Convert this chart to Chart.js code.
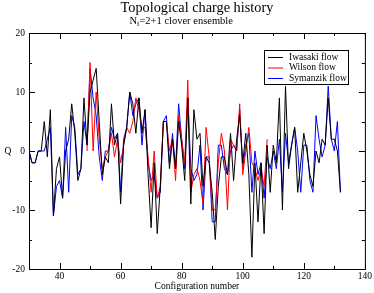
<!DOCTYPE html>
<html>
<head>
<meta charset="utf-8">
<script src="https://cdn.jsdelivr.net/npm/chart.js@4"></script>
<style>
  html, body { margin: 0; padding: 0; background: #fff; }
  #wrap { width: 374px; height: 293px; }
</style>
</head>
<body>
<div id="wrap"><canvas id="chart" width="374" height="293"></canvas></div>
<script>
// テキスト
const titleText = 'Topological charge history';
const subtitleMain = 'N';
const subtitleSub = 'f';
const subtitleRest = '=2+1 clover ensemble';
const xTitle = 'Configuration number';
const yTitle = 'Q';

// 構成番号の開始値（1刻み）
const iwasakiStart = 30;
const wilsonStart = 49;
const symanzikStart = 30;

// Iwasaki flow (30〜132)
const iwasaki = [
  0, -2, -2, 0, 0, 5, -1, 7, -11, -3,
  -1, -8, 0, 2, 8, 3, -5, -3, 9, 1,
  10, 12, 14, 5, -4, -1, -2, 8, 1, 3,
  -9, 1, 4, 10, 8, 3, 9, 3, 7, -4,
  -13, -2, -14, -6, 5, 5, -3, 2, -3, 5,
  1, -5, 9, -9, 7, 2, 3, -6, -1, -2,
  -7, -15, -6, -1, -1, -4, 3, -5, 2, 6,
  -2, 3, -4, -18, -2, -12, -2, -14, 1, -7,
  1, -2, 9, -10, 11, -3, 1, 4, -7, -2,
  3, 0, -4, -6, 0, -2, 2, 1, 9, 2,
  2, 0, -7
];

// Wilson flow (49〜108)
const wilson = [
  0, 15, 0, 10, 2, -3, -1, 0, 3, -1,
  2, -2, 1, 4, 3, 5, 9, 7, 4, 4,
  -1, -7, 0, -8, -6, 5, 5, 0, 2, -5,
  6, 2, -2, 12, -7, -4, -3, -5, -9, 4,
  -1, -10, -10, -2, 3, 0, -10, 2, 1, 0,
  8, -4, 0, 4, -2, -3, -5, -3, -6, 2
];

// Symanzik flow (30〜132)
const symanzik = [
  0, -2, -2, 0, 0, 0, 2, 4, -11, -6,
  -5, -8, 4, -7, 6, 4, -4, -3, 5, 1,
  14, 9, 6, -1, -5, 0, 0, 4, 2, 3,
  -7, 2, 4, 10, 6, 8, 9, 1, 7, -2,
  -5, -4, -8, -7, 5, 6, -2, 3, -3, 8,
  2, -3, 9, -3, -5, -4, 1, -10, -1, -1,
  -12, -12, 1, 1, -3, -4, 0, 1, 0, 7,
  -3, 1, 3, -7, 0, -4, -2, -8, -1, -3,
  0, -3, 2, -7, 3, -2, 1, 4, 0, -7,
  1, 1, -5, -7, 6, 2, -1, 1, 11, 2,
  0, 5, -7
];

// 軸の範囲
const xMin = 30, xMax = 140, xStep = 10, xLabelStep = 20;
const yMin = -20, yMax = 20, yStep = 5, yLabelStep = 10;

const serif = "'Liberation Serif', 'DejaVu Serif', serif";

function toPoints(start, values) {
    return values.map((v, i) => ({ x: start + i, y: v }));
}

// 枠・目盛・凡例・タイトルを描く
const decorPlugin = {
    id: 'decor',
    afterDraw(chart) {
        const { ctx, chartArea: a, scales } = chart;
        const xs = scales.x, ys = scales.y;
        ctx.save();
        ctx.strokeStyle = '#000';
        ctx.lineWidth = 1;
        ctx.strokeRect(a.left + 0.5, a.top + 0.5, a.right - a.left, a.bottom - a.top);

        // 内向きの目盛
        ctx.beginPath();
        for (let v = xMin; v <= xMax; v += xStep) {
            const px = Math.round(xs.getPixelForValue(v)) + 0.5;
            const len = v % xLabelStep === 0 ? 6 : 3;
            ctx.moveTo(px, a.bottom); ctx.lineTo(px, a.bottom - len);
            ctx.moveTo(px, a.top); ctx.lineTo(px, a.top + len);
        }
        for (let v = yMin; v <= yMax; v += yStep) {
            const py = Math.round(ys.getPixelForValue(v)) + 0.5;
            const len = v % yLabelStep === 0 ? 6 : 3;
            ctx.moveTo(a.left, py); ctx.lineTo(a.left + len, py);
            ctx.moveTo(a.right, py); ctx.lineTo(a.right - len, py);
        }
        ctx.stroke();

        // 凡例
        ctx.fillStyle = '#fff';
        ctx.fillRect(264, 50, 84, 34);
        ctx.strokeRect(264.5, 50.5, 84, 34);
        ctx.font = '9.5px ' + serif;
        ctx.textAlign = 'left';
        ctx.textBaseline = 'middle';
        chart.data.datasets.forEach((ds, i) => {
            const yy = 57 + i * 10.5;
            ctx.strokeStyle = ds.borderColor;
            ctx.beginPath();
            ctx.moveTo(268, yy + 0.5); ctx.lineTo(283, yy + 0.5);
            ctx.stroke();
            ctx.fillStyle = '#000';
            ctx.fillText(ds.label, 289, yy);
        });

        // タイトル
        ctx.fillStyle = '#000';
        ctx.textAlign = 'center';
        ctx.textBaseline = 'alphabetic';
        ctx.font = '14.3px ' + serif;
        ctx.fillText(titleText, (a.left + a.right) / 2, 11.5);

        // サブタイトル（下付き文字）
        ctx.textAlign = 'left';
        let sx = 129.5;
        ctx.font = '10.5px ' + serif;
        ctx.fillText(subtitleMain, sx, 23.5);
        sx += ctx.measureText(subtitleMain).width;
        ctx.font = '7px ' + serif;
        ctx.fillText(subtitleSub, sx, 25.5);
        sx += ctx.measureText(subtitleSub).width;
        ctx.font = '10.5px ' + serif;
        ctx.fillText(subtitleRest, sx, 23.5);

        // 軸タイトル
        ctx.textAlign = 'center';
        ctx.font = '9.5px ' + serif;
        ctx.fillText(xTitle, (a.left + a.right) / 2, 289);
        ctx.textBaseline = 'middle';
        ctx.fillText(yTitle, 8, (a.top + a.bottom) / 2);
        ctx.restore();
    }
};

const ctx = document.getElementById('chart').getContext('2d');
new Chart(ctx, {
    type: 'line',
    data: {
        datasets: [
            { label: 'Iwasaki flow', data: toPoints(iwasakiStart, iwasaki), borderColor: '#000000' },
            { label: 'Wilson flow', data: toPoints(wilsonStart, wilson), borderColor: '#ff0000' },
            { label: 'Symanzik flow', data: toPoints(symanzikStart, symanzik), borderColor: '#0000ff' }
        ]
    },
    options: {
        responsive: false,
        animation: false,
        events: [],
        layout: { padding: { top: 33, right: 8, left: 0, bottom: 0 } },
        elements: {
            line: { borderWidth: 1, tension: 0, fill: false },
            point: { radius: 0 }
        },
        plugins: {
            legend: { display: false },
            title: { display: false },
            tooltip: { enabled: false }
        },
        scales: {
            x: {
                type: 'linear',
                min: xMin,
                max: xMax,
                grid: { display: false, drawTicks: false },
                border: { display: false },
                ticks: {
                    stepSize: xStep,
                    autoSkip: false,
                    maxRotation: 0,
                    padding: 2,
                    color: '#000',
                    font: { family: serif, size: 9.5 },
                    callback: v => (v % xLabelStep === 0 ? String(v) : '')
                },
                afterFit: s => { s.height = 24; }
            },
            y: {
                min: yMin,
                max: yMax,
                grid: { display: false, drawTicks: false },
                border: { display: false },
                ticks: {
                    stepSize: yLabelStep,
                    padding: 4,
                    color: '#000',
                    font: { family: serif, size: 9.5 },
                    callback: v => String(v)
                },
                afterFit: s => { s.width = 29; }
            }
        }
    },
    plugins: [decorPlugin]
});
</script>
</body>
</html>
